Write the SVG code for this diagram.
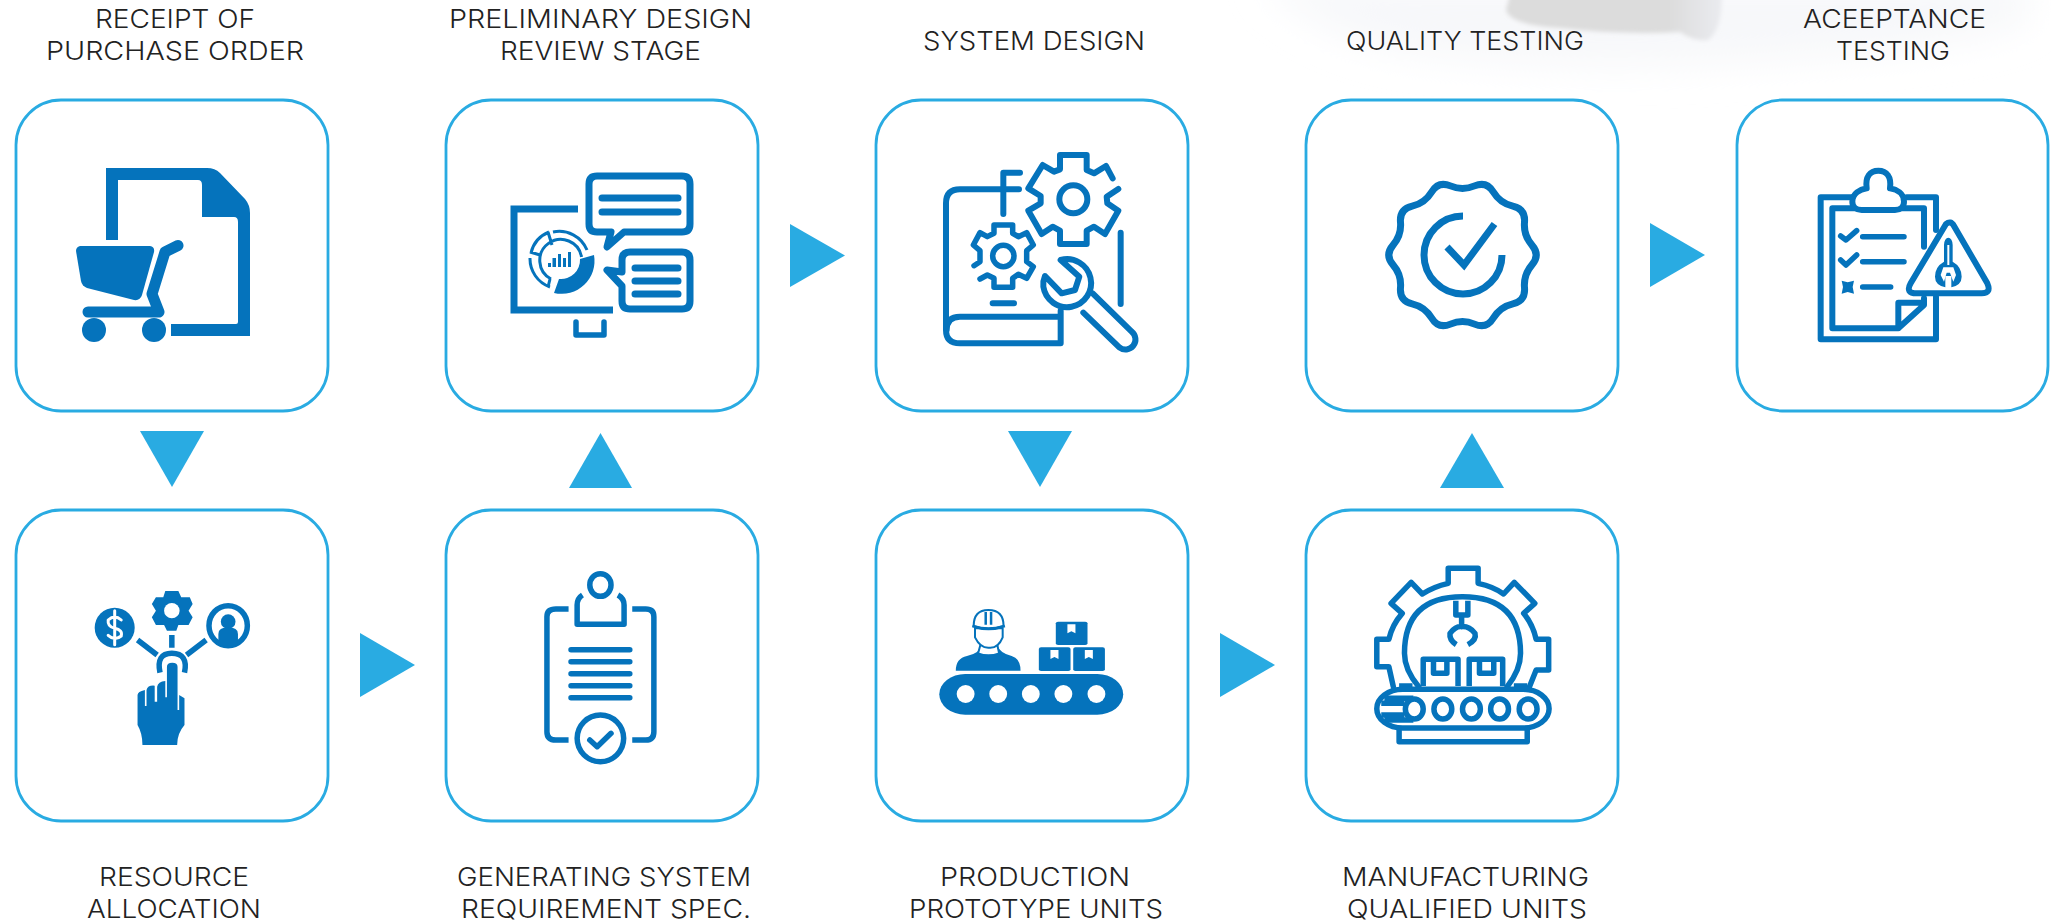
<svg xmlns="http://www.w3.org/2000/svg" width="2051" height="923" viewBox="0 0 2051 923">
<style>
.box{fill:#fff;stroke:#29abe2;stroke-width:2.8}
.arrow{fill:#29abe2}
text{font-family:"Inter","Liberation Sans",sans-serif;font-weight:300;font-size:26px;fill:#222}
.f{fill:#0573bc;stroke:none}
.w{fill:#fff;stroke:none}
.s{fill:none;stroke:#0573bc;stroke-width:6;stroke-linecap:round;stroke-linejoin:round;vector-effect:non-scaling-stroke}
.sw{fill:#fff;stroke:#0573bc;stroke-width:6;stroke-linecap:round;stroke-linejoin:round;vector-effect:non-scaling-stroke}
.b{stroke-linecap:butt}
.t3{stroke-width:3}
.t4{stroke-width:5.5}
.t5{stroke-width:5.5}
.t7{stroke-width:7}
</style>
<defs>
<filter id="soft" x="-20%" y="-100%" width="140%" height="300%"><feGaussianBlur stdDeviation="18"/></filter>
<filter id="soft2" x="-10%" y="-20%" width="120%" height="140%"><feGaussianBlur stdDeviation="2"/></filter>
<linearGradient id="blob" x1="0" y1="0" x2="1" y2="0"><stop offset="0" stop-color="#dcdcdc"/><stop offset=".75" stop-color="#dcdcdc"/><stop offset="1" stop-color="#eaebef"/></linearGradient>
</defs>
<g id="backdrop">
<path d="M1260 -20H2030V20Q1960 50 1800 58Q1600 75 1420 55Q1320 40 1260 -20Z" fill="#f7f8fa" filter="url(#soft)"/>
<path d="M1510 -5H1722Q1722 30 1708 40Q1695 42 1680 32Q1620 35 1560 28Q1510 25 1506 10Z" fill="url(#blob)" filter="url(#soft2)"/>
</g>
<g id="connectors">
<path class="arrow" d="M140 431H204L172 487Z"/>
<path class="arrow" d="M569 488H632L600.500 433Z"/>
<path class="arrow" d="M790 224L845 255.500L790 287Z"/>
<path class="arrow" d="M1008 431H1072L1040 487Z"/>
<path class="arrow" d="M1440 488H1504L1472 433Z"/>
<path class="arrow" d="M1650 223L1705 255L1650 287Z"/>
<path class="arrow" d="M360 633L415 665L360 697Z"/>
<path class="arrow" d="M1220 633L1275 665L1220 697Z"/>
</g>
<g id="node-receipt">
<rect class="box" x="16" y="100" width="312" height="311" rx="45"/>
<text x="95" y="28" textLength="160" lengthAdjust="spacingAndGlyphs">RECEIPT OF</text>
<text x="46" y="60" textLength="258" lengthAdjust="spacingAndGlyphs">PURCHASE ORDER</text>
<path class="f" d="M106 168H207Q215 168 220 173L245 199Q250 205 250 213V336H171V324H236Q238 324 238 322V222Q238 217 234 217H202V185Q202 180 198 180H118V240H106Z"/>
<path class="f" d="M80 246H150Q155 247 154 252L142 295Q140 301 134 300L87 288Q82 286 81 281L76 251Q76 247 80 246Z"/>
<path class="s" style="stroke-width:11" d="M178 245.500L165 252L152 294L159 312H88"/>
<circle class="f" cx="94" cy="330" r="12"/>
<circle class="f" cx="154" cy="330" r="12"/>
</g>
<g id="node-preliminary">
<rect class="box" x="446" y="100" width="312" height="311" rx="45"/>
<text x="449" y="28" textLength="303" lengthAdjust="spacingAndGlyphs">PRELIMINARY DESIGN</text>
<text x="500" y="60" textLength="201" lengthAdjust="spacingAndGlyphs">REVIEW STAGE</text>
<path class="s b t7" style="stroke-linejoin:miter" d="M578 209H514V310H613"/>
<path class="s t5" d="M576 322V335H604V322"/>
<path class="s t7" d="M597 176H682Q690 176 690 184V224Q690 232 682 232H624L607 247L611 232H597Q589 232 589 224V184Q589 176 597 176Z"/>
<path class="s t7" d="M602 198H678M602 212H678M635 268H678M635 281H678M635 294H678"/>
<path class="s t7" d="M630 252H682Q690 252 690 260V301Q690 309 682 309H630Q622 309 622 301V286L607 270L622 272V260Q622 252 630 252Z"/>
<path class="f" d="M594 255A33 33 0 0 1 554 293L559 279A19 19 0 0 0 580 259Z"/>
<path class="s b t3" d="M587 250A30 30 0 0 0 553 232M549 232A30 30 0 0 0 531 253M530 258A30 30 0 0 0 550 287M581.500 257A21 21 0 1 0 551 279M548 232L552 245M530 252L540 255M550 279L548 287"/>
<path class="f" d="M548 263h3v4h-3ZM552.500 258h3.500v9h-3.500ZM558 254h3v13h-3ZM563 258h3v9h-3ZM568 252h3v15h-3Z"/>
</g>
<g id="node-system">
<rect class="box" x="876" y="100" width="312" height="311" rx="45"/>
<text x="923" y="50" textLength="222" lengthAdjust="spacingAndGlyphs">SYSTEM DESIGN</text>
<g transform="translate(870 90) scale(.33333)">
<path class="s" d="M728 265L708 228L672 250L650 240V195H570V238L552 245L518 225L475 295L512 318V340L475 362L515 432L548 410L570 422V462H650V422L672 410L705 432L745 362L712 340L710 320L745 297"/>
<circle class="s" cx="610" cy="328" r="42"/>
<path class="s" d="M447 298H270Q228 298 228 340V720Q228 760 270 760H572V662M570 680H270Q230 680 230 720M450 248H400V372M752 428V642M368 640H432"/>
<path class="s t5" d="M312 527L330 515V482L310 465L330 428L352 440L372 430V405H428V430L445 440L470 428L490 465L470 482V515L490 530L470 565L445 553L428 565V592H372V565L352 555L330 567"/>
<circle class="s t5" cx="400" cy="498" r="32"/>
<path class="s" d="M525 558L575 610L615 600L628 560L572 510A72 72 0 1 1 520 590Q518 575 525 558Z"/>
<path class="s" d="M668 610L785 725A26 26 0 0 1 748 772L640 668"/>
</g>
</g>
<g id="node-quality">
<rect class="box" x="1306" y="100" width="312" height="311" rx="45"/>
<text x="1346" y="50" textLength="238" lengthAdjust="spacingAndGlyphs">QUALITY TESTING</text>
<path class="s" style="stroke-width:7" transform="translate(1462.500 255)" d="M12.050 -69.100Q24.100 -74.200 30.850 -63Q37.600 -51.800 50.350 -48.800Q63.100 -45.800 62 -32.800Q60.900 -19.800 69.450 -9.900Q78 0 69.450 9.900Q60.900 19.800 62 32.800Q63.100 45.800 50.350 48.800Q37.600 51.800 30.850 63Q24.100 74.200 12.050 69.100Q0 64 -12.050 69.100Q-24.100 74.200 -30.850 63Q-37.600 51.800 -50.350 48.800Q-63.100 45.800 -62 32.800Q-60.900 19.800 -69.450 9.900Q-78 0 -69.450 -9.900Q-60.900 -19.800 -62 -32.800Q-63.100 -45.800 -50.350 -48.800Q-37.600 -51.800 -30.850 -63Q-24.100 -74.200 -12.050 -69.100Q0 -64 12.050 -69.100Z"/>
<path class="s b" style="stroke-width:7" d="M1463 216A39 39 0 1 0 1502 255"/>
<path class="s b" style="stroke-width:7;stroke-linejoin:miter" d="M1447 247L1464 265L1494.500 224"/>
</g>
<g id="node-acceptance">
<rect class="box" x="1737" y="100" width="311" height="311" rx="45"/>
<text x="1803" y="28" textLength="183" lengthAdjust="spacingAndGlyphs">ACEEPTANCE</text>
<text x="1836" y="60" textLength="114" lengthAdjust="spacingAndGlyphs">TESTING</text>
<g transform="translate(1700 150) scale(.33333)">
<path class="s" d="M460 142H362V568H708V440M708 240V142H620"/>
<path class="s" d="M470 175H397V535H595L672 465V445M600 175H672V290M672 458H595V535"/>
<path class="sw" d="M500 115C495 80 510 62 535 62C560 62 575 80 570 115C590 118 612 130 612 155C612 172 600 180 585 180H485C470 180 457 172 457 155C457 130 480 118 500 115Z"/>
<path class="s t5" d="M422 258L438 270L470 242M422 330L438 345L470 315M488 260H612M488 335H612M488 411H572"/>
<path class="f" d="M425 392L443 397L462 392L458 411L462 431L443 426L425 431L429 411Z"/>
<path class="sw" d="M738 222Q752 210 762 228L862 400Q875 430 845 430H650Q615 430 632 400Z"/>
<path class="f" d="M732 285A13 22 0 0 1 758 285V335Q785 350 785 380Q785 405 754 412V378H736V412Q705 405 705 380Q705 350 732 335Z"/>
<path class="w" d="M742 285h6v60h-6ZM730 352L722 375L732 395L740 368h10L760 395L768 375L760 352Z"/>
</g>
</g>
<g id="node-resource">
<rect class="box" x="16" y="510" width="312" height="311" rx="45"/>
<text x="99" y="886" textLength="150" lengthAdjust="spacingAndGlyphs">RESOURCE</text>
<text x="87" y="918" textLength="174" lengthAdjust="spacingAndGlyphs">ALLOCATION</text>
<g transform="translate(60 570) scale(.40816 .33333)">
<ellipse class="f" cx="134" cy="173" rx="49" ry="60"/>
<path class="s t3" style="stroke:#fff" d="M150 150Q134 132 118 150Q116 170 134 175Q154 180 150 198Q134 214 118 196M134 122V224"/>
<path class="f" d="M258 63H290L297 82H318L325 102L315 122L325 142L315 165H290L285 182H262L255 165H235L225 142L235 122L225 102L235 82H253Z"/>
<ellipse class="w" cx="274" cy="122" rx="19" ry="23"/>
<ellipse class="sw t4" cx="412" cy="167" rx="47" ry="60"/>
<ellipse class="f" cx="412" cy="155" rx="18" ry="22"/>
<path class="f" d="M388 226V192Q388 172 412 172Q436 172 436 192V226Z"/>
<path class="s b t4" d="M190 210L238 255M274 195V233M358 210L310 255M245 308Q235 250 274 250Q315 250 305 308"/>
<path class="f" d="M262 290Q262 278 275 278Q288 278 288 290V420H292V375L305 385V465Q287 490 287 525H202Q202 490 190 465V375Q190 365 208 360V408H212V360Q215 345 232 347V395H238V350Q240 335 258 333V382H262Z"/>
</g>
</g>
<g id="node-generating">
<rect class="box" x="446" y="510" width="312" height="311" rx="45"/>
<text x="457" y="886" textLength="294" lengthAdjust="spacingAndGlyphs">GENERATING SYSTEM</text>
<text x="461" y="918" textLength="290" lengthAdjust="spacingAndGlyphs">REQUIREMENT SPEC.</text>
<g transform="translate(60 570) scale(.40816 .33333)">
<ellipse class="s t5" cx="1324" cy="45" rx="26" ry="34"/>
<path class="s b t5" d="M1280 75Q1267 85 1267 105V163H1382V105Q1382 85 1367 75M1246 117H1215Q1193 117 1193 140V485Q1193 510 1215 510H1246M1402 117H1435Q1455 117 1455 140V485Q1455 510 1435 510H1402"/>
<path class="s t5" d="M1252 239H1396M1252 275H1396M1252 311H1396M1252 347H1396M1252 383H1396"/>
<ellipse class="s t5" cx="1324" cy="505" rx="57" ry="70"/>
<path class="s t5" d="M1298 510L1316 530L1350 490"/>
</g>
</g>
<g id="node-production">
<rect class="box" x="876" y="510" width="312" height="311" rx="45"/>
<text x="940" y="886" textLength="190" lengthAdjust="spacingAndGlyphs">PRODUCTION</text>
<text x="909" y="918" textLength="254" lengthAdjust="spacingAndGlyphs">PROTOTYPE UNITS</text>
<g transform="translate(900 550) scale(.44643 .33333)">
<rect class="f" x="88" y="372" width="412" height="122" rx="58" ry="61"/>
<ellipse class="w" cx="147" cy="432" rx="20" ry="27"/>
<ellipse class="w" cx="220" cy="432" rx="20" ry="27"/>
<ellipse class="w" cx="293" cy="432" rx="20" ry="27"/>
<ellipse class="w" cx="366" cy="432" rx="20" ry="27"/>
<ellipse class="w" cx="440" cy="432" rx="20" ry="27"/>
<rect class="f" x="349" y="215" width="71" height="70" rx="5"/>
<rect class="f" x="311" y="292" width="71" height="71" rx="5"/>
<rect class="f" x="388" y="292" width="71" height="71" rx="5"/>
<path class="w" d="M375 223H393V250L384 244L375 250ZM337 300H355V327L346 321L337 327ZM414 300H432V327L423 321L414 327Z"/>
<path class="f" d="M125 362Q125 325 150 318Q178 310 182 288H218Q225 310 250 318Q270 325 270 362Z"/>
<path class="sw" style="stroke-width:2" d="M180 285L175 310Q198 322 222 310L218 285Z"/>
<path class="sw" style="stroke-width:2" d="M168 235V262Q180 295 200 293Q220 295 230 262V235Z"/>
<path class="sw" style="stroke-width:2" d="M165 228Q165 180 198 180Q232 180 232 228Q198 242 165 228Z"/>
<path class="s b" style="stroke-width:2.500" d="M192 186V224M204 186V224M162 228Q198 246 235 228"/>
</g>
</g>
<g id="node-manufacturing">
<rect class="box" x="1306" y="510" width="312" height="311" rx="45"/>
<text x="1342" y="886" textLength="247" lengthAdjust="spacingAndGlyphs">MANUFACTURING</text>
<text x="1347" y="918" textLength="240" lengthAdjust="spacingAndGlyphs">QUALIFIED UNITS</text>
<g transform="translate(900 550) scale(.44643 .33333)">
<path class="s t4" d="M1105 410L1095 350H1068V268H1095Q1102 225 1125 190L1100 160L1145 97L1170 132Q1195 110 1228 100V55H1295V100Q1330 110 1352 132L1376 97L1422 160L1397 190Q1418 225 1425 268H1453V360H1425L1410 410"/>
<path class="s t4" d="M1162 410Q1130 360 1130 310Q1130 140 1260 140Q1390 140 1390 310Q1390 360 1360 410"/>
<path class="s b t4" d="M1245 152V195H1272V152M1258 195V225M1246 284Q1230 270 1232 250Q1245 228 1258 230Q1275 228 1288 250Q1292 270 1272 284"/>
<path class="s b t4" d="M1172 408V328H1250V408M1275 408V328H1350V408M1195 335V370H1225V335M1298 335V370H1330V335M1118 408H1148M1375 408H1405"/>
<rect class="s t4" x="1068" y="418" width="386" height="116" rx="58" ry="58"/>
<path class="s b t4" d="M1085 445H1150M1078 460H1130M1078 495H1130M1085 510H1150"/>
<ellipse class="sw t4" cx="1152" cy="477" rx="20" ry="30"/>
<ellipse class="sw t4" cx="1216" cy="477" rx="20" ry="30"/>
<ellipse class="sw t4" cx="1280" cy="477" rx="20" ry="30"/>
<ellipse class="sw t4" cx="1343" cy="477" rx="20" ry="30"/>
<ellipse class="sw t4" cx="1407" cy="477" rx="20" ry="30"/>
<path class="s t4" d="M1118 538V575H1405V538"/>
</g>
</g>
</svg>
